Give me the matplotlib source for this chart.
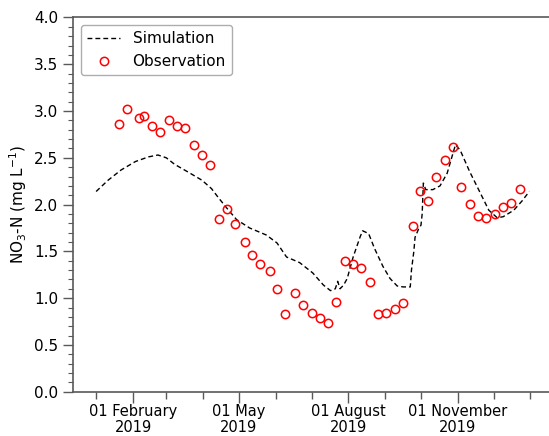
import numpy as np
import pandas as pd
import matplotlib
matplotlib.use("Agg")
import matplotlib.pyplot as plt
import matplotlib.dates as mdates

# Simulated nitrate (daily model output, key points)
sim_dates = ["2019-01-01", "2019-01-11", "2019-01-22", "2019-02-03", "2019-02-14",
             "2019-02-22", "2019-03-01", "2019-03-08", "2019-03-19", "2019-03-31",
             "2019-04-08", "2019-04-14", "2019-04-21", "2019-04-29", "2019-05-10",
             "2019-05-24", "2019-06-02", "2019-06-10", "2019-06-21", "2019-07-02",
             "2019-07-11", "2019-07-17", "2019-07-21", "2019-07-23", "2019-07-25",
             "2019-07-28", "2019-07-31", "2019-08-05", "2019-08-11", "2019-08-13",
             "2019-08-18", "2019-08-23", "2019-08-30", "2019-09-05", "2019-09-11",
             "2019-09-16", "2019-09-22", "2019-09-23", "2019-09-25", "2019-09-26",
             "2019-09-29", "2019-10-01", "2019-10-02", "2019-10-03", "2019-10-05",
             "2019-10-11", "2019-10-17", "2019-10-23", "2019-10-27", "2019-10-30",
             "2019-11-03", "2019-11-11", "2019-11-20", "2019-11-27", "2019-12-04",
             "2019-12-09", "2019-12-18", "2019-12-25", "2019-12-31"]
sim_values = [2.14, 2.26, 2.37, 2.46, 2.51,
              2.53, 2.50, 2.43, 2.35, 2.26,
              2.17, 2.07, 1.96, 1.84, 1.75,
              1.675, 1.59, 1.44, 1.38, 1.27,
              1.14, 1.08, 1.10, 1.18, 1.10,
              1.14, 1.21, 1.44, 1.66, 1.72,
              1.69, 1.53, 1.34, 1.21, 1.13,
              1.12, 1.12, 1.30, 1.50, 1.65,
              1.74, 1.78, 1.90, 2.23, 2.16,
              2.16, 2.20, 2.335, 2.51, 2.64,
              2.58, 2.35, 2.12, 1.94, 1.86,
              1.87, 1.94, 2.04, 2.14]

# Weekly observations
obs_dates = ["2019-01-20", "2019-01-27", "2019-02-06", "2019-02-10", "2019-02-17",
             "2019-02-24", "2019-03-03", "2019-03-10", "2019-03-17", "2019-03-24",
             "2019-03-31", "2019-04-07", "2019-04-14", "2019-04-21", "2019-04-28",
             "2019-05-06", "2019-05-12", "2019-05-19", "2019-05-27", "2019-06-02",
             "2019-06-09", "2019-06-17", "2019-06-24", "2019-07-01", "2019-07-08",
             "2019-07-15", "2019-07-22", "2019-07-29", "2019-08-05", "2019-08-12",
             "2019-08-19", "2019-08-26", "2019-09-02", "2019-09-09", "2019-09-16",
             "2019-09-24", "2019-09-30", "2019-10-07", "2019-10-14", "2019-10-21",
             "2019-10-28", "2019-11-04", "2019-11-11", "2019-11-18", "2019-11-25",
             "2019-12-02", "2019-12-09", "2019-12-16", "2019-12-23"]
obs_values = [2.86, 3.02, 2.93, 2.95, 2.84,
              2.78, 2.90, 2.84, 2.82, 2.64,
              2.53, 2.42, 1.85, 1.95, 1.79,
              1.60, 1.46, 1.36, 1.29, 1.10,
              0.83, 1.06, 0.93, 0.84, 0.79,
              0.73, 0.96, 1.40, 1.37, 1.32,
              1.17, 0.83, 0.84, 0.88, 0.95,
              1.77, 2.14, 2.04, 2.29, 2.48,
              2.62, 2.19, 2.01, 1.88, 1.86,
              1.90, 1.97, 2.02, 2.17]

sim_x = pd.to_datetime(sim_dates)
obs_x = pd.to_datetime(obs_dates)

plt.rcParams["font.family"] = "DejaVu Sans"
fig = plt.figure(figsize=(5.49, 4.36), dpi=100)
ax = fig.add_axes([0.133, 0.1016, 0.867, 0.8583])

ax.plot(sim_x, sim_values, color="black", linestyle=(0, (3.5, 2.2)),
        linewidth=1.0, label="Simulation")
ax.plot(obs_x, obs_values, linestyle="none", marker="o", markersize=6,
        markerfacecolor="none", markeredgecolor="red", markeredgewidth=1.1,
        label="Observation")

ax.set_xlim(pd.Timestamp("2018-12-12 14:00"), pd.Timestamp("2020-01-16 14:00"))
ax.set_ylim(0, 4)

ax.xaxis.set_major_locator(mdates.MonthLocator(bymonth=[2, 5, 8, 11]))
ax.xaxis.set_minor_locator(mdates.MonthLocator())
ax.xaxis.set_major_formatter(mdates.DateFormatter("%d %B\n%Y"))
ax.yaxis.set_major_locator(plt.MultipleLocator(0.5))
ax.yaxis.set_minor_locator(plt.MultipleLocator(0.1))
ax.yaxis.set_major_formatter(plt.FormatStrFormatter("%.1f"))

spine_col = "0.35"
for side in ["left", "bottom", "top"]:
    ax.spines[side].set_color(spine_col)
    ax.spines[side].set_linewidth(1.2)
ax.spines["right"].set_visible(False)

ax.tick_params(axis="both", which="both", colors=spine_col, labelcolor="black")
ax.tick_params(axis="y", labelsize=11)
ax.tick_params(axis="x", which="major", length=8, width=1.0, pad=1,
               labelsize=10.5)
ax.tick_params(axis="x", which="minor", length=5, width=1.0)
ax.tick_params(axis="y", which="major", length=7, width=1.0)
ax.tick_params(axis="y", which="minor", length=3.5, width=0.8)
ax.tick_params(top=False, right=False)
for lbl in ax.get_xticklabels():
    lbl.set_linespacing(1.05)

ax.set_ylabel("NO$_3$-N (mg L$^{-1}$)", fontsize=11)

leg = ax.legend(loc="upper left", fontsize=11, frameon=True, handlelength=2.2,
                borderpad=0.4, bbox_to_anchor=(0.0, 1.0))
leg.get_frame().set_edgecolor("0.6")

fig.savefig("out.png", dpi=100)
